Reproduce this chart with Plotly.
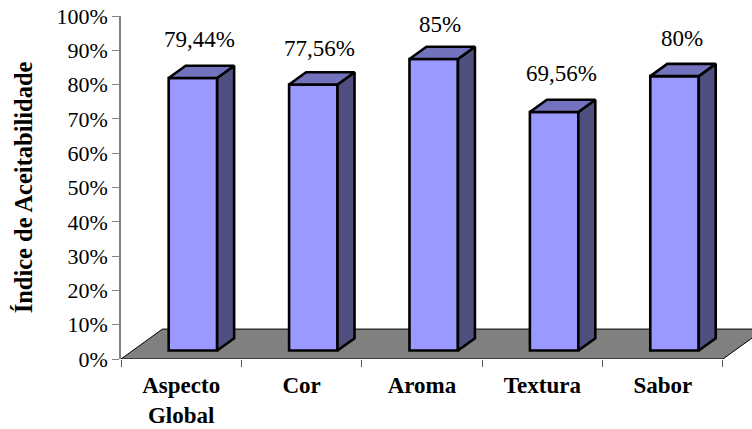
import plotly.graph_objects as go

# Sensory acceptability index per attribute
categories = ["Aspecto<br>Global", "Cor", "Aroma", "Textura", "Sabor"]
values = [79.44, 77.56, 85, 69.56, 80]
value_labels = ["79,44%", "77,56%", "85%", "69,56%", "80%"]
y_ticks = list(range(0, 101, 10))
y_tick_labels = [f"{v}%" for v in y_ticks]

# Oblique projection of the floor: depth 1 maps to this shift in axis units
FLOOR_DX = 0.344
FLOOR_DY = 8.72
BAR_NEAR = 0.283
BAR_FAR = 0.283 + 0.41
BAR_WIDTH = 0.4025
X_MIN, X_MAX = -0.5, 4.741

FRONT = "#9999FF"
TOP = "#7373BD"
SIDE = "#4F4F80"
GREY = "#808080"
FONT = "Liberation Serif"


def project(x, v, depth):
    return x + depth * FLOOR_DX, v + depth * FLOOR_DY


def polygon(points):
    xs, ys = zip(*points)
    return list(xs) + [xs[0]], list(ys) + [ys[0]]


fig = go.Figure()

# Front faces
positions = list(range(len(values)))
near_x, near_base = project(0, 0, BAR_NEAR)
fig.add_trace(go.Bar(
    x=[p + near_x for p in positions],
    y=values,
    base=near_base,
    width=BAR_WIDTH,
    marker=dict(color=FRONT, line=dict(color="black", width=2.6)),
    hoverinfo="skip",
))

# Side and top faces
half = BAR_WIDTH / 2
for p, v in zip(positions, values):
    side = [project(p + half, 0, BAR_NEAR), project(p + half, v, BAR_NEAR),
            project(p + half, v, BAR_FAR), project(p + half, 0, BAR_FAR)]
    top = [project(p - half, v, BAR_NEAR), project(p + half, v, BAR_NEAR),
           project(p + half, v, BAR_FAR), project(p - half, v, BAR_FAR)]
    for face, color in ((side, SIDE), (top, TOP)):
        xs, ys = polygon(face)
        fig.add_trace(go.Scatter(
            x=xs, y=ys, mode="lines", fill="toself", fillcolor=color,
            line=dict(color="black", width=2.6), hoverinfo="skip",
        ))

# Invisible trace that carries the tick marks at category boundaries
fig.add_trace(go.Scatter(x=[X_MIN], y=[0], xaxis="x2", mode="markers",
                         marker=dict(opacity=0), hoverinfo="skip"))

# Value labels above each bar (shifts in pixels)
label_shift_x = [-10.5, -10.5, -10.5, -9.5, -9]
label_shift_y = [26, 24, 22, 26.5, 25]
annotations = []
for p, v, text, sx, sy in zip(positions, values, value_labels, label_shift_x, label_shift_y):
    bx, by = project(p, v, BAR_FAR)
    annotations.append(dict(
        x=bx, y=by, text=text, showarrow=False, xanchor="center", yanchor="middle",
        xshift=sx, yshift=sy, font=dict(family=FONT, size=23, color="black"),
    ))
annotations.append(dict(
    xref="paper", yref="paper", x=0, y=0.499, xshift=-97.5, text="<b>Índice de Aceitabilidade</b>",
    textangle=-90, showarrow=False, xanchor="center", yanchor="middle",
    font=dict(family=FONT, size=24.5, color="black"),
))

# Grey floor, kept under the bars
x0, x1 = -0.5, 4.5
corners = [project(x0, 0, 0), project(x1, 0, 0), project(x1, 0, 1), project(x0, 0, 1)]
floor_path = "M " + " L ".join(f"{cx},{cy}" for cx, cy in corners) + " Z"

fig.update_layout(
    width=752, height=429, autosize=False, showlegend=False,
    margin=dict(l=120.5, r=0, t=15.5, b=69.5, pad=0),
    paper_bgcolor="white", plot_bgcolor="white",
    barmode="overlay",
    shapes=[dict(type="path", path=floor_path, xref="x", yref="y", layer="below",
                 fillcolor=GREY, line=dict(color="black", width=1))],
    annotations=annotations,
    xaxis=dict(
        range=[X_MIN, X_MAX], tickmode="array", tickvals=positions,
        ticktext=[f"<b>{c}</b>".replace("<br>", "</b><br><b>") for c in categories],
        ticks="", showgrid=False, zeroline=False, showline=False, ticklabelstandoff=10,
        automargin=False,
        tickfont=dict(family=FONT, size=23, color="black"),
    ),
    xaxis2=dict(
        range=[X_MIN, X_MAX], overlaying="x", anchor="y", side="bottom",
        tickmode="array", tickvals=[x0 + i for i in range(6)], ticktext=[""] * 6,
        ticks="outside", ticklen=7, tickwidth=1.2, tickcolor="#606060",
        showgrid=False, zeroline=False, showline=False, automargin=False,
    ),
    yaxis=dict(
        range=[0, 100], tickmode="array", tickvals=y_ticks, ticktext=y_tick_labels,
        ticks="outside", ticklen=7, tickwidth=1.2, tickcolor=GREY,
        showline=True, linecolor=GREY, linewidth=1.5,
        showgrid=False, zeroline=False, automargin=False,
        tickfont=dict(family=FONT, size=22, color="black"),
    ),
)

fig.write_html("out.html", config=dict(displayModeBar=False))
